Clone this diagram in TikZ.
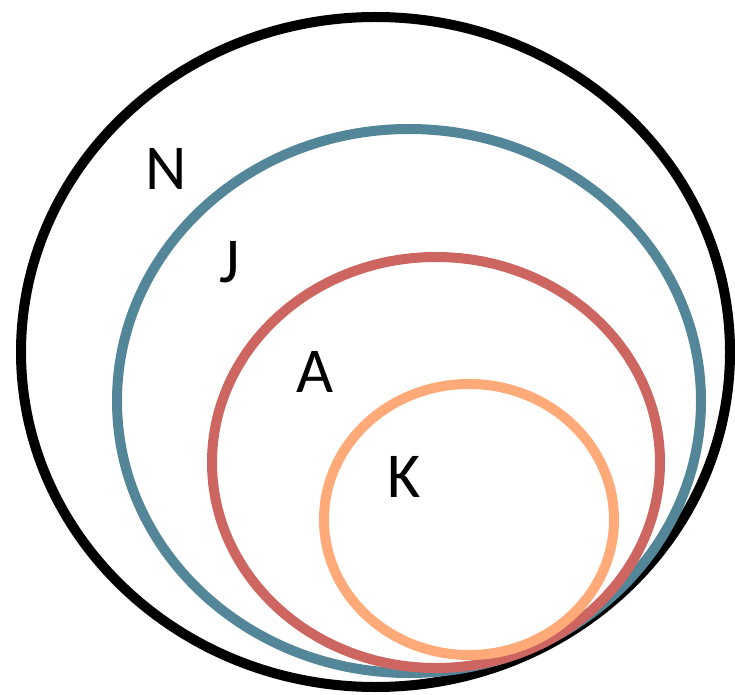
\documentclass[tikz,border=0pt]{standalone}
\usepackage{fontspec}
\setmainfont{Carlito}
\usepackage{xcolor}
\usepackage{tikz}

\definecolor{setN}{HTML}{000000}
\definecolor{setJ}{HTML}{548699}
\definecolor{setA}{HTML}{CD6661}
\definecolor{setK}{HTML}{FFAA78}

\tikzset{
  setline/.style={line width=10pt},
  setlabel/.style={font=\fontsize{64}{64}\selectfont, inner sep=0pt}
}

\begin{document}
\begin{tikzpicture}[x=1pt,y=1pt]

\useasboundingbox (0,0) rectangle (735,694);

% Set N
\draw[setline, setN] (375.5,342) ellipse [x radius=354.5, y radius=335];

% Set J
\draw[setline, setJ] (409,293) ellipse [x radius=292, y radius=272];

% Set A
\draw[setline, setA] (436,231.5) ellipse [x radius=224, y radius=205.5];

% Set K
\draw[setline, setK] (469,174.5) ellipse [x radius=145, y radius=135.5];

% Labels
\node[setlabel] (labN) at (166.5,525) {N};
\node[setlabel] (labJ) at (230,431.5) {J};
\node[setlabel] (labA) at (315,322) {A};
\node[setlabel] (labK) at (404,217) {K};

\end{tikzpicture}
\end{document}
